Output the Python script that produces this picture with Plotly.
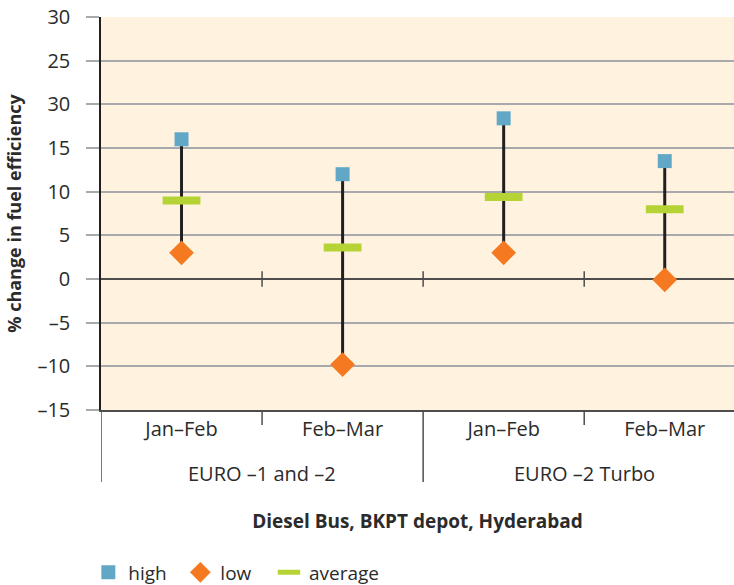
import plotly.graph_objects as go

groups = ["EURO –1 and –2", "EURO –1 and –2", "EURO –2 Turbo", "EURO –2 Turbo"]
periods = ["Jan–Feb", "Feb–Mar", "Jan–Feb", "Feb–Mar"]
high = [16.0, 12.0, 18.4, 13.5]
low = [3.0, -9.8, 3.0, -0.1]
average = [9.0, 3.6, 9.4, 8.0]
y_tickvals = [30, 25, 20, 15, 10, 5, 0, -5, -10, -15]
y_ticktext = ["30", "25", "30", "15", "10", "5", "0", "–5", "–10", "–15"]

FONT = "Open Sans"
TXT = "#2B2B2B"
AX = "#4D4D4D"

keys = [f"{g} | {p}" for g, p in zip(groups, periods)]
n = len(keys)

fig = go.Figure()

# whiskers
for k, lo, hi in zip(keys, low, high):
    fig.add_trace(go.Scatter(
        x=[k, k], y=[lo, hi], mode="lines",
        line=dict(color="#231F20", width=3), showlegend=False, hoverinfo="skip"))

fig.add_trace(go.Scatter(
    x=keys, y=high, mode="markers", name="high", legend="legend",
    marker=dict(symbol="square", size=14, color="#62A8C6")))
fig.add_trace(go.Scatter(
    x=keys, y=low, mode="markers", name="low", legend="legend",
    marker=dict(symbol="diamond", size=19, color="#F47920")))
fig.add_trace(go.Scatter(
    x=keys, y=average, mode="markers", name="average", legend="legend2",
    marker=dict(symbol="line-ew", size=27, color="#B5D334",
                line=dict(color="#B5D334", width=8))))

# group structure: boundaries between periods and between groups
group_names = list(dict.fromkeys(groups))
starts = [groups.index(g) for g in group_names]
ends = [len(groups) - 1 - groups[::-1].index(g) for g in group_names]
plot_h = 393
for i in range(1, n):
    b = i - 0.5
    is_group_edge = groups[i] != groups[i - 1]
    # small tick marks on the zero line
    fig.add_shape(type="line", xref="x", yref="y", x0=b, x1=b, y0=-0.9, y1=0.9,
                  line=dict(color=AX, width=1.5), layer="above")
    if not is_group_edge:
        fig.add_shape(type="line", xref="x", yref="paper", x0=b, x1=b, y0=0, y1=-15 / plot_h,
                      line=dict(color=AX, width=1.5))
for s in starts:
    fig.add_shape(type="line", xref="x", yref="paper", x0=s - 0.5, x1=s - 0.5, y0=0, y1=-72 / plot_h,
                  line=dict(color=AX, width=1.5))
for g, s, e in zip(group_names, starts, ends):
    fig.add_annotation(text=g, x=(s + e) / 2, xref="x", y=-63 / plot_h, yref="paper",
                       showarrow=False, yanchor="middle", font=dict(size=20, color=TXT))

legend_common = dict(orientation="h", xanchor="left",
                     yref="container", y=(585 - 572.5) / 585, yanchor="middle",
                     font=dict(size=19, color=TXT), itemwidth=30, tracegroupgap=0)

fig.update_layout(
    width=734, height=585,
    margin=dict(l=101, r=0, t=17, b=175),
    paper_bgcolor="white", plot_bgcolor="#FFF3E0",
    font=dict(family=FONT, size=19, color=TXT),
    showlegend=True,
    legend=dict(x=-0.02, entrywidth=47, entrywidthmode="pixels", **legend_common),
    legend2=dict(x=0.2654, **legend_common),
)

fig.update_yaxes(
    range=[-15, 30], tickvals=y_tickvals, ticktext=y_ticktext,
    automargin=False,
    tickfont=dict(size=20),
    showgrid=True, gridcolor="#A7A9AC", gridwidth=1.5,
    zeroline=True, zerolinecolor=AX, zerolinewidth=1.5,
    showline=True, linecolor="#231F20", linewidth=1.5,
    ticks="outside", ticklen=13, tickcolor="#A7A9AC", tickwidth=1.5,
    ticklabelstandoff=12,
    title=dict(text="<b>% change in fuel efficiency</b>", font=dict(size=18, color=TXT), standoff=11),
)

fig.update_xaxes(
    type="category", range=[-0.5, 3.43],
    tickvals=keys, ticktext=periods,
    automargin=False,
    tickfont=dict(size=20),
    showline=True, linecolor=AX, linewidth=1.5,
    ticks="", ticklabelstandoff=0,
    showgrid=False, zeroline=False,
    title=dict(text="<b>Diesel Bus, BKPT depot, Hyderabad</b>", font=dict(size=19, color=TXT), standoff=74),
)

fig.write_html("out.html", config={"displayModeBar": False},
               post_script="document.body.style.margin='0';")
